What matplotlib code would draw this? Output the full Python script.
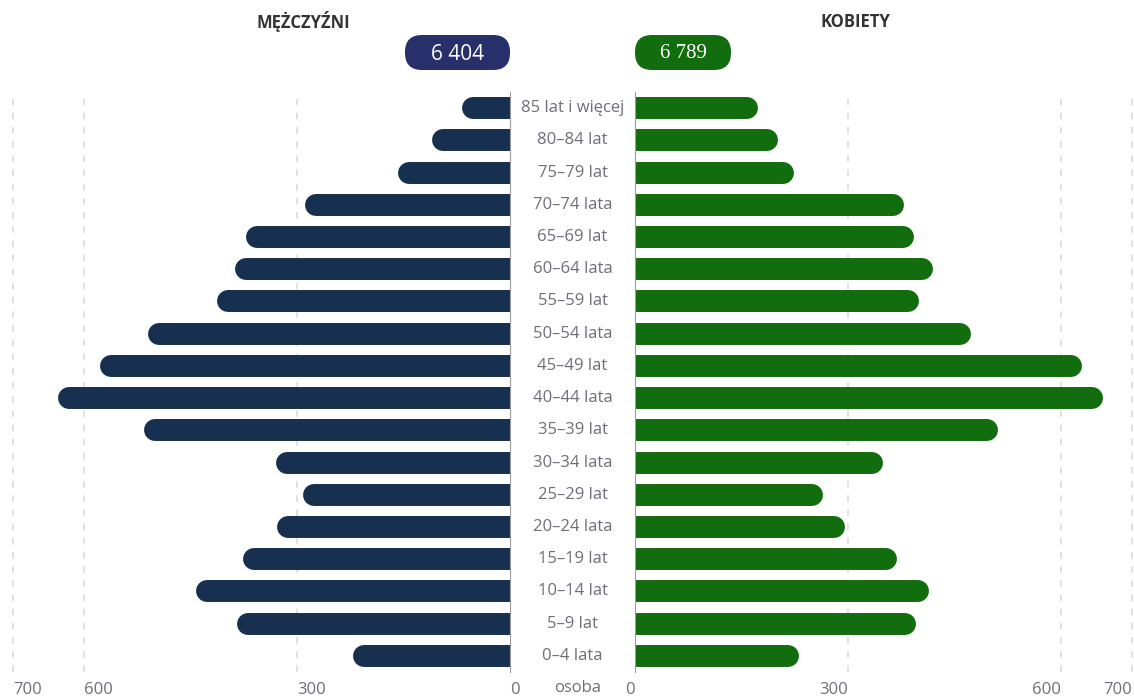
import matplotlib.pyplot as plt
from matplotlib.patches import FancyBboxPatch
from matplotlib.transforms import blended_transform_factory
from matplotlib import rcParams

rcParams.update({"font.family": ["Open Sans", "DejaVu Sans"]})

age_groups = ["0–4 lata", "5–9 lat", "10–14 lat", "15–19 lat", "20–24 lata", "25–29 lat",
              "30–34 lata", "35–39 lat", "40–44 lata", "45–49 lat", "50–54 lata", "55–59 lat",
              "60–64 lata", "65–69 lat", "70–74 lata", "75–79 lat", "80–84 lat", "85 lat i więcej"]
men = [221, 385, 442, 376, 328, 292, 330, 515, 637, 577, 510, 413, 387, 372, 289, 158, 110, 68]
women = [231, 396, 414, 369, 296, 265, 349, 511, 659, 630, 473, 400, 420, 393, 379, 224, 201, 173]
men_total = "6 404"
women_total = "6 789"
grid_ticks = [700, 600, 300]
tick_vals = [700, 600, 300, 0]

W, H = 1134, 696
fig = plt.figure(figsize=(W / 100, H / 100), dpi=100, facecolor="white")

# pixel overlay for header
bg = fig.add_axes([0, 0, 1, 1])
bg.set_xlim(0, W)
bg.set_ylim(H, 0)
bg.axis("off")

NAVY = "#17304f"
GREEN = "#116d0e"
GRID = "#dcdcdc"
TXT = "#6e6e78"

y0, y1 = 672, 92
ax_l = fig.add_axes([13 / W, (H - y0) / H, (510 - 13) / W, (y0 - y1) / H])
ax_r = fig.add_axes([635 / W, (H - y0) / H, (1132 - 635) / W, (y0 - y1) / H])

ypos = list(range(len(age_groups)))
px_per_unit = (510 - 13) / 700.0
r = 11 / px_per_unit  # cap radius in data units

for ax, vals, col in [(ax_l, men, NAVY), (ax_r, women, GREEN)]:
    ax.set_xlim(0, 700)
    ax.set_ylim(-0.5, len(age_groups) - 0.5)
    for g in grid_ticks:
        ax.axvline(g, color=GRID, lw=1.2, ls=(0, (4, 4.5)), zorder=0, clip_on=False)
    ax.hlines(ypos, [-r] * len(vals), [v - r for v in vals], colors=col,
              linewidth=15.8, capstyle="round", zorder=2)
    for s in ["top", "bottom", "left", "right"]:
        ax.spines[s].set_visible(False)
    ax.set_yticks([])
    ax.set_xticks(tick_vals)
    ax.set_xticklabels([str(t) for t in tick_vals])
    ax.tick_params(axis="x", length=0, pad=7, labelsize=12, labelcolor=TXT)
    ax.set_facecolor("none")

ax_l.invert_xaxis()
ax_l.spines["right"].set_visible(True)
ax_l.spines["right"].set_color("#9a9aa0")
ax_r.spines["left"].set_visible(True)
ax_r.spines["left"].set_color("#9a9aa0")
for lab in ax_l.get_xticklabels():
    lab.set_ha("left")
for lab in ax_r.get_xticklabels():
    lab.set_ha("right")

# category labels between the two halves
tr = blended_transform_factory(fig.transFigure, ax_l.transData)
for y, lab in zip(ypos, age_groups):
    ax_l.text(572.5 / W, y, lab, transform=tr, ha="center", va="center",
              fontsize=12, color=TXT, clip_on=False)

bg.text(578, 688, "osoba", ha="center", va="center", fontsize=12, color=TXT)

# headers
bg.text(303, 22, "MĘŻCZYŹNI", ha="center", va="center", fontsize=12, fontweight="bold", color="#333333")
bg.text(855, 22, "KOBIETY", ha="center", va="center", fontsize=12, fontweight="bold", color="#333333")

bg.add_patch(FancyBboxPatch((405, 35), 105, 35, boxstyle="round,pad=0,rounding_size=17",
                            facecolor="#27306a", edgecolor="none"))
bg.text(457.5, 54, men_total, ha="center", va="center", fontsize=15, color="white")
bg.add_patch(FancyBboxPatch((635, 35), 96, 35, boxstyle="round,pad=0,rounding_size=17",
                            facecolor=GREEN, edgecolor="none"))
bg.text(683, 54, women_total, ha="center", va="center", fontsize=15, color="white",
        family=["Liberation Serif", "DejaVu Serif"])

fig.savefig("out.png", dpi=100, facecolor="white")
